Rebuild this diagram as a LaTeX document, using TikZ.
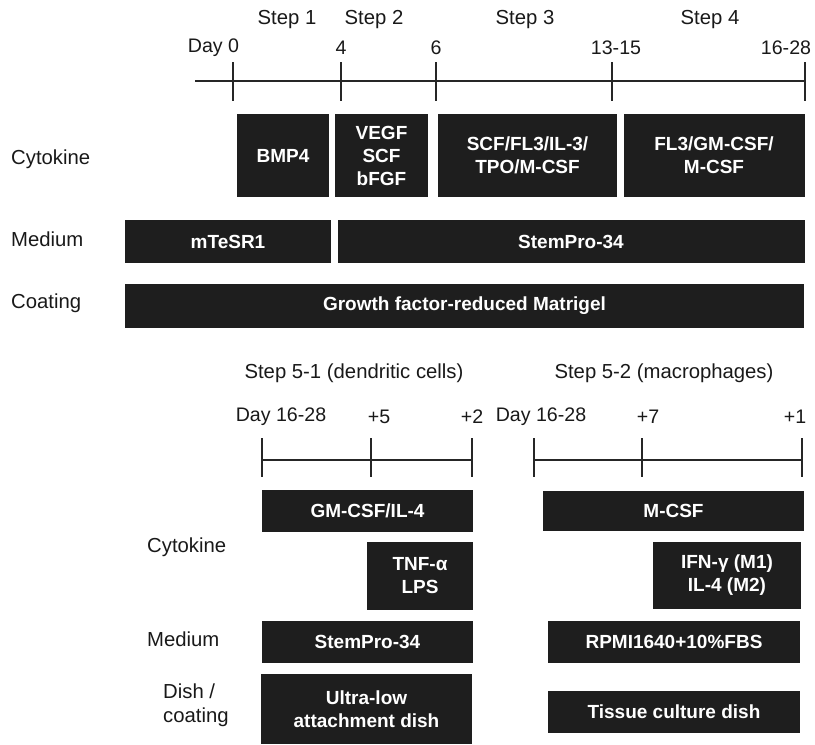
\documentclass[tikz,border=0pt]{standalone}
\usepackage{fontspec}
\setmainfont{Liberation Sans}
\definecolor{boxc}{HTML}{1E1E1E}
\tikzset{
  lbl/.style={font=\fontsize{20.3}{24}\selectfont, inner sep=0pt, text=black!90},
  daylbl/.style={font=\fontsize{19.6}{24}\selectfont, inner sep=0pt, text=black!90},
  bx/.style={fill=boxc, draw=none, text=white, font=\fontsize{19}{23}\selectfont\bfseries, align=center, inner sep=0pt},
  tl/.style={line width=1.6pt, draw=black!85}
}
\begin{document}
\begin{tikzpicture}[x=1pt,y=-1pt]
\useasboundingbox (0,0) rectangle (815,745);
% step labels
\node[lbl] (s1) at (287,20) {Step 1};
\node[lbl] (s2) at (374,20) {Step 2};
\node[lbl] (s3) at (525,20) {Step 3};
\node[lbl] (s4) at (710,20) {Step 4};
% day labels
\node[daylbl] (d0) at (213.5,48) {Day 0};
\node[daylbl] (d4) at (341,48) {4};
\node[daylbl] (d6) at (436,48) {6};
\node[daylbl] (d13) at (616,48) {13-15};
\node[daylbl] (d16) at (786,48) {16-28};
% top timeline
\coordinate (tA) at (195,81);
\coordinate (tB) at (805,81);
\draw[tl] (tA) -- (tB);
\foreach \x in {233,341,436,612,805} \draw[tl] (\x,62) -- (\x,101);
% row labels
\node[lbl, anchor=west] (cyt) at (11,159) {Cytokine};
\node[lbl, anchor=west] (med) at (11,239) {Medium};
\node[lbl, anchor=west] (coat) at (11,303) {Coating};
% cytokine boxes
\node[bx, minimum width=92pt, minimum height=83pt] (bmp) at (283,155.5) {BMP4};
\node[bx, minimum width=93pt, minimum height=83pt] (vegf) at (381.5,155.5) {VEGF\\SCF\\bFGF};
\node[bx, minimum width=179pt, minimum height=83pt] (scf) at (527.5,155.5) {SCF/FL3/IL-3/\\TPO/M-CSF};
\node[bx, minimum width=181pt, minimum height=83pt] (fl3) at (714,155.5) {FL3/GM-CSF/\\M-CSF};
% medium / coating
\node[bx, minimum width=206pt, minimum height=43pt] (mtesr) at (228,241.5) {mTeSR1};
\node[bx, minimum width=467pt, minimum height=43pt] (stem) at (571,241.5) {StemPro-34};
\node[bx, minimum width=679pt, minimum height=44pt] (matri) at (464.5,306) {Growth factor-reduced Matrigel};
% step 5 labels
\node[lbl] (s51) at (354,373) {Step 5-1 (dendritic cells)};
\node[lbl] (s52) at (664,373) {Step 5-2 (macrophages)};
\node[daylbl] (e1) at (281,417) {Day 16-28};
\node[daylbl] (e2) at (379,417) {+5};
\node[daylbl] (e3) at (472,417) {+2};
\node[daylbl] (f1) at (541,417) {Day 16-28};
\node[daylbl] (f2) at (648,417) {+7};
\node[daylbl] (f3) at (795,417) {+1};
% lower timelines
\coordinate (uA) at (262,460);
\coordinate (uB) at (472,460);
\draw[tl] (uA) -- (uB);
\foreach \x in {262,371,472} \draw[tl] (\x,438) -- (\x,477);
\coordinate (vA) at (534,460);
\coordinate (vB) at (802,460);
\draw[tl] (vA) -- (vB);
\foreach \x in {534,642,802} \draw[tl] (\x,438) -- (\x,477);
% lower row labels
\node[lbl, anchor=west] (cyt2) at (147,547) {Cytokine};
\node[lbl, anchor=west] (med2) at (147,639) {Medium};
\node[lbl, anchor=west, align=left] (dish) at (163,705) {Dish /\\coating};
% lower boxes
\node[bx, minimum width=211pt, minimum height=42pt] (gm) at (367.5,511) {GM-CSF/IL-4};
\node[bx, minimum width=261pt, minimum height=40pt] (mcsf) at (673.5,510.5) {M-CSF};
\node[bx, minimum width=106pt, minimum height=68pt] (tnf) at (420,576) {TNF-α\\LPS};
\node[bx, minimum width=148pt, minimum height=67pt] (ifn) at (727,575.5) {IFN-γ (M1)\\IL-4 (M2)};
\node[bx, minimum width=211pt, minimum height=42pt] (stem2) at (367.5,642) {StemPro-34};
\node[bx, minimum width=252pt, minimum height=42pt] (rpmi) at (674,642) {RPMI1640+10\%FBS};
\node[bx, minimum width=211pt, minimum height=70pt] (ultra) at (366.5,709) {Ultra-low\\attachment dish};
\node[bx, minimum width=252pt, minimum height=42pt] (tissue) at (674,712) {Tissue culture dish};
\end{tikzpicture}
\end{document}
